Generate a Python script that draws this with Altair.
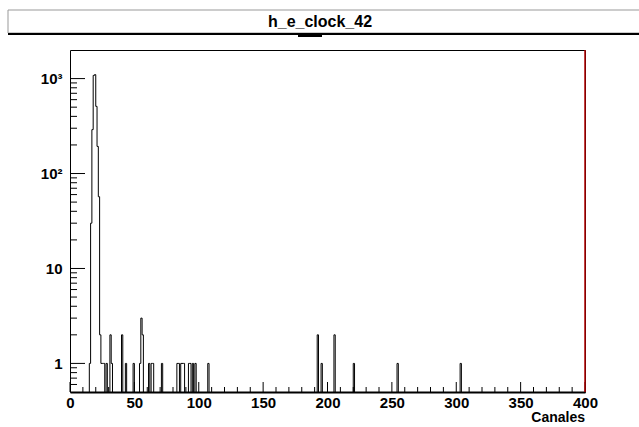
import altair as alt
import pandas as pd

# ---- data: non-empty bins of the histogram (bin low edge, count) ----
bins =   [15, 16, 17, 18, 19, 20, 21, 22, 23, 24, 25, 26, 28, 31, 32, 40, 43, 49, 54, 55, 56,
          61, 63, 64, 71, 83, 84, 86, 87, 88, 92, 93, 95, 97, 107, 192, 195, 205, 220, 254, 303]
counts = [1, 30, 290, 1080, 1100, 510, 193, 57, 2, 1, 1, 1, 1, 2, 1, 2, 1, 1, 1, 3, 2,
          1, 1, 1, 1, 1, 1, 1, 1, 1, 1, 1, 1, 1, 1, 2, 1, 2, 1, 1, 1]
n_bins = 400
title_text = "h_e_clock_42"
x_label = "Canales"
x_major = [0, 50, 100, 150, 200, 250, 300, 350, 400]
x_minor = [v for v in range(10, 400, 10) if v % 50 != 0]
y_major = [1, 10, 100, 1000]
y_minor = [0.6, 0.7, 0.8, 0.9] + [k * 10 ** e for e in range(0, 3) for k in range(2, 10)]

FONT = "Liberation Sans"
W, H = 515, 342

full = dict(zip(bins, counts))
edges = list(range(n_bins + 1))
vals = [full.get(i, 0.1) for i in range(n_bins)]
vals.append(vals[-1])
hist_df = pd.DataFrame({"x": edges, "y": vals})

xscale = alt.Scale(domain=[0, 400], nice=False, zero=False)
yscale = alt.Scale(type="log", domain=[0.5, 2000], nice=False)

x_axis = alt.Axis(values=x_major, ticks=False, grid=False, domain=True,
                  domainColor="#000", domainWidth=2, labelFont=FONT,
                  labelFontSize=15, labelFontWeight="bold", labelColor="#000",
                  labelPadding=3, labelFlush=False)
y_axis = alt.Axis(values=y_major, ticks=False, grid=False, domain=False,
                  labelFont=FONT, labelFontSize=15, labelFontWeight="bold",
                  labelColor="#000", labelPadding=8,
                  labelExpr="datum.value == 1000 ? '10³' : datum.value == 100 ? '10²' : datum.value == 10 ? '10' : '1'")

hist = alt.Chart(hist_df).mark_line(
    interpolate="step-after", clip=True, color="#000", strokeWidth=1
).encode(
    x=alt.X("x:Q", scale=xscale, title=None, axis=x_axis),
    y=alt.Y("y:Q", scale=yscale, title=None, axis=y_axis),
)

xt_major = alt.Chart(pd.DataFrame({"x": x_major})).mark_rule(color="#000").encode(
    x=alt.X("x:Q", scale=xscale, title=None, axis=x_axis), y=alt.value(H), y2=alt.value(H - 10))
xt_minor = alt.Chart(pd.DataFrame({"x": x_minor})).mark_rule(color="#000").encode(
    x=alt.X("x:Q", scale=xscale, title=None, axis=x_axis), y=alt.value(H), y2=alt.value(H - 5))
yt_major = alt.Chart(pd.DataFrame({"y": y_major})).mark_rule(color="#000").encode(
    y=alt.Y("y:Q", scale=yscale, title=None, axis=y_axis), x=alt.value(0), x2=alt.value(15))
yt_minor = alt.Chart(pd.DataFrame({"y": y_minor})).mark_rule(color="#000").encode(
    y=alt.Y("y:Q", scale=yscale, title=None, axis=y_axis), x=alt.value(0), x2=alt.value(7))

red = alt.Chart(pd.DataFrame({"x": [400]})).mark_rule(color="#b00000", strokeWidth=1.5).encode(
    x=alt.X("x:Q", scale=xscale, title=None, axis=x_axis), y=alt.value(0), y2=alt.value(H))

one = pd.DataFrame({"a": [0]})
box = alt.Chart(one).mark_rect(fill="#fff", stroke="#999", strokeWidth=1).encode(
    x=alt.value(-62), x2=alt.value(572), y=alt.value(-40), y2=alt.value(-17))
box_shadow = alt.Chart(one).mark_rule(color="#000", strokeWidth=2).encode(
    x=alt.value(-62), x2=alt.value(572), y=alt.value(-16))
underline = alt.Chart(one).mark_rule(color="#000", strokeWidth=2).encode(
    x=alt.value(228), x2=alt.value(252), y=alt.value(-14))
title = alt.Chart(one).mark_text(font=FONT, fontSize=16, fontWeight="bold", color="#000",
                                 align="center", baseline="middle").encode(
    x=alt.value(250), y=alt.value(-28), text=alt.value(title_text))
xlab = alt.Chart(one).mark_text(font=FONT, fontSize=14, fontWeight="bold", color="#000",
                                align="right", baseline="middle").encode(
    x=alt.value(W), y=alt.value(H + 26), text=alt.value(x_label))

chart = alt.layer(
    hist, xt_major, xt_minor, yt_major, yt_minor, red,
    box, box_shadow, underline, title, xlab
).properties(
    width=W, height=H,
    background="#fff",
    autosize=alt.AutoSizeParams(type="none"),
    padding={"left": 70, "top": 50, "right": 54, "bottom": 35},
).configure_view(stroke="#000", strokeWidth=1)

chart.save("out.html", embed_options={"renderer": "svg", "actions": False})
